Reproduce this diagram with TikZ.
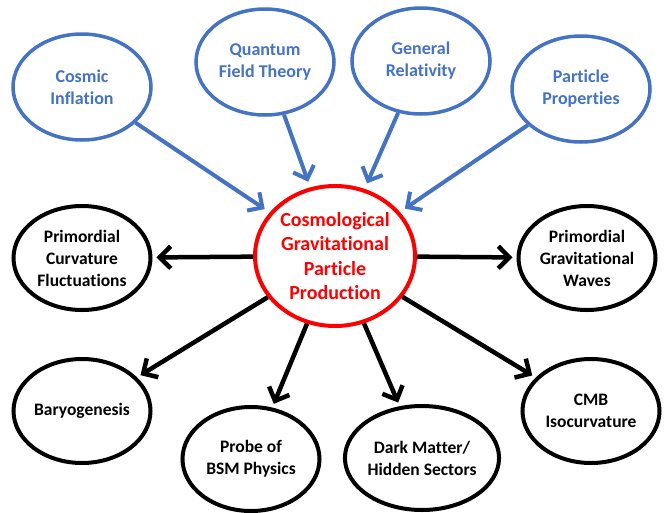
\documentclass[tikz,border=0pt]{standalone}
\usepackage{fontspec}
\setmainfont{Carlito}[Ligatures=NoCommon]
\usepackage{tikz}
\usetikzlibrary{arrows.meta,shapes.geometric,positioning}

\definecolor{inblue}{HTML}{4472C4}
\definecolor{cgred}{HTML}{FF0000}

\tikzset{
  inputnode/.style={ellipse,draw=inblue,line width=3.5pt,text=inblue,inner sep=0pt,
    minimum width=138pt,minimum height=106pt,align=center,
    font=\fontsize{18}{22}\selectfont\bfseries},
  outputnode/.style={ellipse,draw=black,line width=4pt,text=black,inner sep=0pt,
    minimum width=137pt,minimum height=104pt,align=center,
    font=\fontsize{17.5}{22}\selectfont\bfseries},
  centernode/.style={ellipse,draw=cgred,line width=4pt,text=cgred,inner sep=0pt,
    minimum width=160pt,minimum height=140pt,align=center,
    font=\fontsize{20}{24.5}\selectfont\bfseries},
  inarrow/.style={draw=inblue,line width=4pt,-{Straight Barb[length=11pt,width=22pt]},shorten >=6pt},
  outarrow/.style={draw=black,line width=4.5pt,-{Straight Barb[length=11pt,width=22pt]},shorten >=4pt}
}

\begin{document}
\begin{tikzpicture}[x=1pt,y=-1pt]
  \useasboundingbox (0,0) rectangle (670,512); %Fix page size

  \node[centernode] (cgpp) at (335,256) {Cosmological\\Gravitational\\Particle\\Production}; %Central circle

  \node[inputnode] (infl) at (82,87)  {Cosmic\\Inflation};        %Input 1
  \node[inputnode] (qft)  at (265,62) {Quantum\\Field Theory};    %Input 2
  \node[inputnode] (gr)   at (421,61) {General\\Relativity};      %Input 3
  \node[inputnode] (prop) at (581,89) {Particle\\Properties};     %Input 4

  \node[outputnode] (curv) at (82,258)  {Primordial\\Curvature\\Fluctuations};  %Output left
  \node[outputnode] (gw)   at (587,258) {Primordial\\Gravitational\\Waves};     %Output right
  \node[outputnode] (bary) at (82,411)  {Baryogenesis};                         %Output lower left
  \node[outputnode] (bsm)  at (251,459) {Probe of\\BSM Physics};                %Output bottom left
  \node[outputnode] (dm)   at (422,458) {Dark Matter/\\Hidden Sectors};         %Output bottom right
  \node[outputnode] (iso)  at (591,411) {CMB\\Isocurvature};                    %Output lower right

  \draw[inarrow] (infl) -- (cgpp); %Inflation to center
  \draw[inarrow] (qft)  -- (cgpp); %QFT to center
  \draw[inarrow] (gr)   -- (cgpp); %GR to center
  \draw[inarrow] (prop) -- (cgpp); %Particles to center

  \draw[outarrow] (cgpp) -- (curv); %Center to curvature
  \draw[outarrow] (cgpp) -- (gw);   %Center to waves
  \draw[outarrow] (cgpp) -- (bary); %Center to baryogenesis
  \draw[outarrow] (cgpp) -- (bsm);  %Center to BSM
  \draw[outarrow] (cgpp) -- (dm);   %Center to dark matter
  \draw[outarrow] (cgpp) -- (iso);  %Center to isocurvature
\end{tikzpicture}
\end{document}
